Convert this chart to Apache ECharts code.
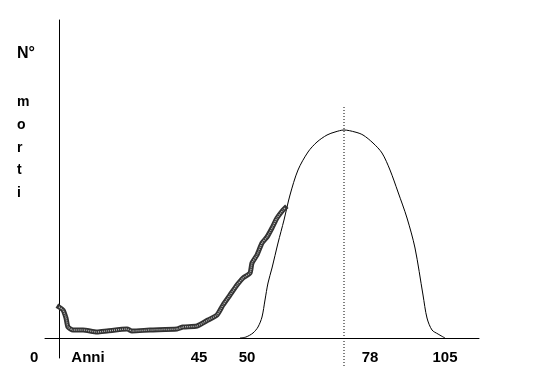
<!DOCTYPE html>
<html>
<head>
<meta charset="utf-8">
<script src="https://cdn.jsdelivr.net/npm/echarts@6/dist/echarts.min.js"></script>
<style>
html,body{margin:0;padding:0;background:#fff;}
#c{width:534px;height:391px;}
</style>
</head>
<body>
<div id="c"></div>
<script>
// Schematic chart: x in drawing units (age axis is not to scale), y = number of deaths (arbitrary units)
const tickPositions = [14.5, 70, 94, 155.5, 193];
const tickLabels = ['Anni', '45', '50', '78', '105'];
const originLabel = '0';
const yTitle = 'N°';
const yTitleLetters = ['m', 'o', 'r', 't', 'i'];

// observed mortality (thick hatched line)
const observedX = [0, 2, 3.5, 4.5, 7, 12, 19, 24, 34, 36.5, 45.5, 59, 62, 69, 74.5, 79, 82, 85.5, 89, 92, 95.5, 96.5, 99, 101.5, 104, 106.5, 109, 112, 113];
const observedY = [15.5, 14, 10, 5.5, 4, 4, 3, 3.5, 4.5, 3.5, 4, 4.5, 5.5, 6, 9, 11.5, 16.5, 21.5, 26.5, 30, 32.5, 37.5, 41.5, 47.5, 50.5, 55, 60, 64, 65];

// ideal bell-shaped curve (thin line)
const bellX = [90.5, 93.5, 97, 99.5, 101.5, 103, 104.5, 106.5, 109.5, 112.5, 115.5, 119.5, 124.5, 129, 134, 138, 142.5, 148, 152, 157, 161.5, 165.5, 169.5, 174, 178, 182, 184, 186.5, 189.5, 193];
const bellY = [0, 0.5, 2.5, 5.5, 10.5, 19, 27.5, 35, 47.5, 59, 71.5, 84, 93, 98, 101.5, 103, 104, 103, 101.5, 97.5, 92.5, 84, 73, 60, 45, 21.5, 10, 4, 2, 0];

// dotted vertical at the peak (78)
const peakLineX = [142.5, 142.5];
const peakLineY = [115.5, -15];

const zip = (a, b) => a.map((v, i) => [v, b[i]]);

const chart = echarts.init(document.getElementById('c'));
const font = 'Liberation Sans, Arial, sans-serif';
chart.setOption({
  animation: false,
  backgroundColor: '#fff',
  grid: {left: 45, right: 55, top: 20, bottom: 33, containLabel: false},
  xAxis: {
    type: 'value', min: -7, max: 210,
    axisLine: {show: true, onZero: true, lineStyle: {color: '#000', width: 1}},
    axisTick: {show: false},
    splitLine: {show: false},
    axisLabel: {
      show: true,
      customValues: tickPositions,
      margin: -8,
      color: '#000',
      fontFamily: font,
      fontSize: 15,
      fontWeight: 'bold',
      formatter: function (v) {
        let best = 0;
        for (let i = 0; i < tickPositions.length; i++) {
          if (Math.abs(tickPositions[i] - v) < Math.abs(tickPositions[best] - v)) best = i;
        }
        return tickLabels[best];
      }
    }
  },
  yAxis: {
    type: 'value', min: -10, max: 159,
    axisLine: {show: true, onZero: true, lineStyle: {color: '#000', width: 1}},
    axisTick: {show: false},
    splitLine: {show: false},
    axisLabel: {show: false}
  },
  graphic: [
    {type: 'text', left: 30, top: 350, style: {text: originLabel, font: 'bold 15px ' + font, fill: '#000'}},
    {type: 'text', left: 17, top: 46, style: {text: yTitle, font: 'bold 16px ' + font, fill: '#000'}},
    {type: 'text', left: 17, top: 91, style: {text: yTitleLetters.join('\n'), font: 'bold 14px ' + font, lineHeight: 22.75, fill: '#000'}}
  ],
  series: [
    {
      type: 'line', data: zip(bellX, bellY), showSymbol: false, smooth: 0.3,
      lineStyle: {color: '#000', width: 1}, z: 2
    },
    {
      type: 'line', data: zip(observedX, observedY), showSymbol: false, smooth: 0.2,
      lineStyle: {color: '#333', width: 5, cap: 'square', join: 'round'}, z: 3
    },
    {
      type: 'line', data: zip(observedX, observedY), showSymbol: false, smooth: 0.2,
      lineStyle: {color: '#bbb', width: 1.5, type: [1, 1]}, z: 4
    },
    {
      type: 'line', data: zip(peakLineX, peakLineY), showSymbol: false, clip: false,
      lineStyle: {color: '#000', width: 1, type: [1, 2]}, z: 1
    }
  ]
});
</script>
</body>
</html>
